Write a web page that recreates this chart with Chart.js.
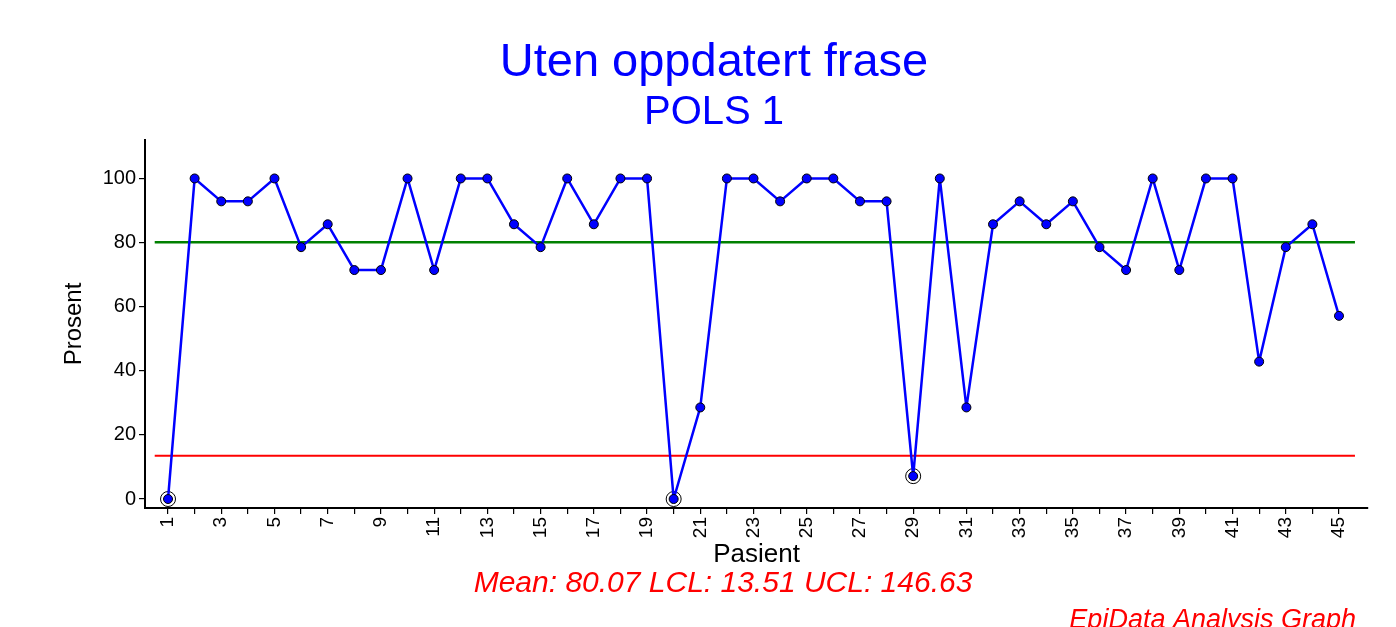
<!DOCTYPE html>
<html>
<head>
<meta charset="utf-8">
<title>Uten oppdatert frase - POLS 1</title>
<script src="https://cdn.jsdelivr.net/npm/chart.js@4/dist/chart.umd.min.js"></script>
<style>
  body { margin: 0; background: #fff; }
  canvas { display: block; }
</style>
</head>
<body>
<canvas id="chart-1" width="1396" height="627"></canvas>
<script>
  // Data (prosent per pasient)
  const pasienter = Array.from({ length: 45 }, (_, i) => i + 1);
  const prosent = [
    0, 100, 92.86, 92.86, 100, 78.57, 85.71, 71.43, 71.43, 100,
    71.43, 100, 100, 85.71, 78.57, 100, 85.71, 100, 100, 0,
    28.57, 100, 100, 92.86, 100, 100, 92.86, 92.86, 7.14, 100,
    28.57, 85.71, 92.86, 85.71, 92.86, 78.57, 71.43, 100, 71.43, 100,
    100, 42.86, 78.57, 85.71, 57.14
  ];
  const yTicks = [0, 20, 40, 60, 80, 100];
  const mean = 80.07;
  const lcl = 13.51;
  const ucl = 146.63;
  const lineStart = 0.5;
  const lineEnd = 45.6;

  const points = pasienter.map((p, i) => ({ x: p, y: prosent[i] }));
  // punkter utenfor kontrollgrensene faar en ring
  const outside = points.filter(p => p.y < lcl || p.y > ucl);

  const font = "'Liberation Sans', Arial, sans-serif";

  // Titler og tekst under grafen
  const texts = {
    id: 'texts',
    afterDraw(chart) {
      const c = chart.ctx;
      c.save();
      c.textBaseline = 'alphabetic';
      c.fillStyle = '#0000ff';
      c.textAlign = 'center';
      c.font = '47px ' + font;
      c.fillText('Uten oppdatert frase', 714, 76);
      c.font = '40px ' + font;
      c.fillText('POLS 1', 714, 124);
      c.fillStyle = '#ff0000';
      c.font = 'italic 30px ' + font;
      c.fillText('Mean: ' + mean.toFixed(2) + ' LCL: ' + lcl.toFixed(2) + ' UCL: ' + ucl.toFixed(2), 723, 592);
      c.textAlign = 'right';
      c.font = 'italic 27px ' + font;
      c.fillText('EpiData Analysis Graph', 1356, 628);
      c.restore();
    }
  };

  const ctx = document.getElementById('chart-1');
  new Chart(ctx, {
    type: 'line',
    data: {
      datasets: [
        {
          label: 'Prosent',
          data: points,
          borderColor: '#0000ff',
          borderWidth: 2.5,
          borderJoinStyle: 'round',
          pointRadius: 4.5,
          pointBackgroundColor: '#0000ff',
          pointBorderColor: '#000',
          pointBorderWidth: 1,
          order: 0
        },
        {
          label: 'Utenfor',
          data: outside,
          showLine: false,
          pointRadius: 7.5,
          pointBackgroundColor: 'rgba(0,0,0,0)',
          pointBorderColor: '#000',
          pointBorderWidth: 1,
          order: 1
        },
        {
          label: 'Mean',
          data: [{ x: lineStart, y: mean }, { x: lineEnd, y: mean }],
          borderColor: '#008000',
          borderWidth: 2.5,
          pointRadius: 0,
          order: 2
        },
        {
          label: 'LCL',
          data: [{ x: lineStart, y: lcl }, { x: lineEnd, y: lcl }],
          borderColor: '#ff0000',
          borderWidth: 2,
          pointRadius: 0,
          order: 2
        }
      ]
    },
    options: {
      responsive: false,
      animation: false,
      layout: { padding: { top: 140, right: 28, left: 0, bottom: 0 } },
      plugins: {
        legend: { display: false },
        tooltip: { enabled: false }
      },
      scales: {
        x: {
          type: 'linear',
          min: 0.135,
          max: 46.09,
          afterBuildTicks: s => { s.ticks = pasienter.map(v => ({ value: v })); },
          afterFit: s => { s.height = 119; },
          ticks: {
            autoSkip: false,
            minRotation: 90,
            maxRotation: 90,
            padding: 3,
            color: '#000',
            font: { family: font, size: 19 },
            callback: v => (v % 2 === 1 ? String(v) : '')
          },
          grid: { drawOnChartArea: false, tickLength: 6, color: '#000', lineWidth: 1.2 },
          border: { color: '#000', width: 2 },
          title: {
            display: true,
            text: 'Pasient',
            color: '#000',
            font: { family: font, size: 26 },
            padding: { top: 0, bottom: 57 }
          }
        },
        y: {
          min: -2.8,
          max: 112,
          afterBuildTicks: s => { s.ticks = yTicks.map(v => ({ value: v })); },
          afterFit: s => { s.width = 145; },
          ticks: {
            padding: 3,
            color: '#000',
            font: { family: font, size: 20 }
          },
          grid: { drawOnChartArea: false, tickLength: 6, color: '#000', lineWidth: 1.2 },
          border: { color: '#000', width: 2 },
          title: {
            display: true,
            text: 'Prosent',
            color: '#000',
            font: { family: font, size: 24 },
            padding: { top: 60, bottom: 0 }
          }
        }
      }
    },
    plugins: [texts]
  });
</script>
</body>
</html>
